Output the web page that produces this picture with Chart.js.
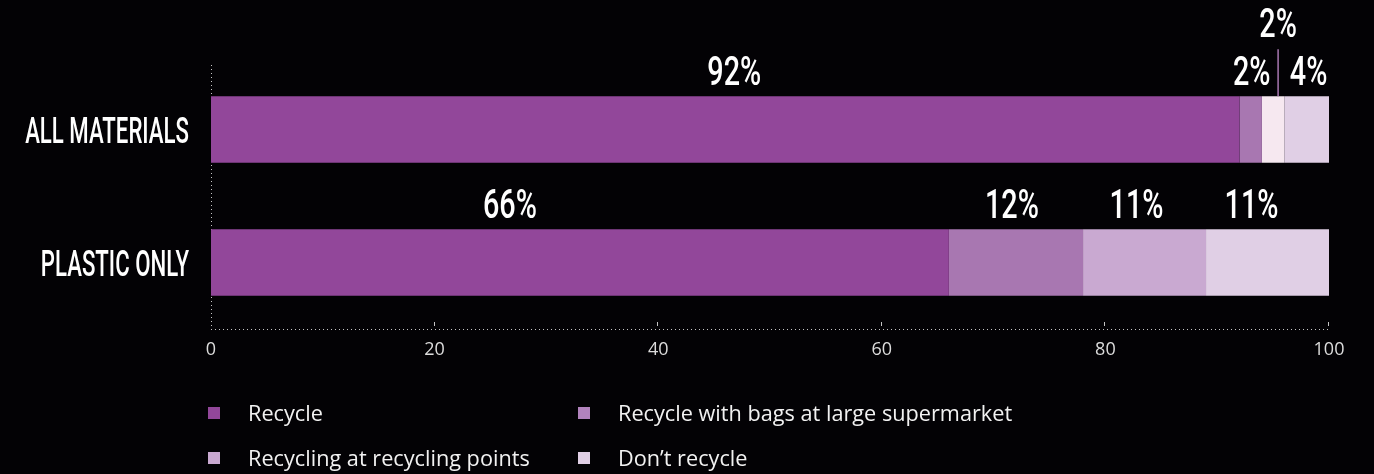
<!DOCTYPE html>
<html>
<head>
<meta charset="utf-8">
<script src="https://cdn.jsdelivr.net/npm/chart.js@4.4.1/dist/chart.umd.min.js"></script>
<style>
  html, body { margin: 0; padding: 0; background: #030205; }
  #wrap { position: relative; width: 1374px; height: 474px; overflow: hidden; }
  #chart { display: block; }
  #legend {
    position: absolute; left: 208px; top: 398px;
    display: grid; grid-template-columns: 370px auto; row-gap: 16px;
    font-family: "Open Sans", sans-serif; font-size: 21.7px; color: #f2f2f2;
  }
  .item { display: flex; align-items: center; height: 29px; white-space: nowrap; }
  .swatch { width: 12px; height: 12px; margin-right: 28px; flex: none; }
</style>
</head>
<body>
<div id="wrap">
  <canvas id="chart" width="1374" height="474"></canvas>
  <div id="legend"></div>
</div>
<script>
// Survey answers, percent of respondents
const categories = ['ALL MATERIALS', 'PLASTIC ONLY'];
const seriesNames = ['Recycle', 'Recycle with bags at large supermarket', 'Recycling at recycling points', 'Don\u2019t recycle'];
const recycle = [92, 66];
const recycleWithBags = [2, 12];
const recyclingPoints = [2, 11];
const dontRecycle = [4, 11];
const xTickValues = [0, 20, 40, 60, 80, 100];

// Styling
const palette = ['#92479a', '#b283bd', '#c9a9d1', '#e0cfe5'];
const barColors = [
  ['#92479a', '#92479a'],
  ['#a877b1', '#a877b1'],
  ['#f6e8f0', '#c9a9d1'],
  ['#e0cfe5', '#e0cfe5']
];
// horizontal nudges for value labels [dataset][category], in px
const labelNudge = [
  [9, -70],
  [1, -4],
  [5, -8],
  [2, -16]
];
// labels lifted above their neighbours with a leader line
const callouts = [{ dataset: 2, index: 0, rise: 59 }];

const seriesValues = [recycle, recycleWithBags, recyclingPoints, dontRecycle];

function condensedText(ctx, text, x, y, size, sx, align) {
  ctx.save();
  ctx.font = '500 ' + size + 'px Roboto';
  const w = ctx.measureText(text).width * sx;
  const left = align === 'right' ? x - w : align === 'center' ? x - w / 2 : x;
  ctx.translate(left, y);
  ctx.scale(sx, 1);
  ctx.textAlign = 'left';
  ctx.textBaseline = 'alphabetic';
  ctx.fillText(text, 0, 0);
  ctx.restore();
}

const decorations = {
  id: 'decorations',
  beforeDatasetsDraw(chart) {
    const ctx = chart.ctx;
    const xs = chart.scales.x;
    const area = chart.chartArea;
    const left = Math.round(area.left), bottom = Math.round(area.bottom);

    // dotted axis lines
    ctx.save();
    ctx.fillStyle = '#c4c4c4';
    for (let x = left; x <= Math.round(area.right); x += 4) ctx.fillRect(x, bottom, 1, 1);
    for (let y = bottom; y >= Math.round(area.top) + 2; y -= 4) ctx.fillRect(left, y, 1, 1);

    // short tick marks above the x axis
    xTickValues.forEach(v => {
      if (v === 0) return;
      const px = Math.round(xs.getPixelForValue(v)) - 1;
      ctx.fillRect(px, bottom - 7, 1, 4);
    });
    ctx.restore();
  },
  afterDraw(chart) {
    const ctx = chart.ctx;
    const ys = chart.scales.y;
    const area = chart.chartArea;

    // category names
    ctx.save();
    ctx.fillStyle = '#ffffff';
    categories.forEach((c, i) => {
      const cy = ys.getPixelForValue(i);
      condensedText(ctx, c, area.left - 22, cy + 13, 37, 0.6, 'right');
    });
    ctx.restore();

    // value labels
    ctx.save();
    ctx.fillStyle = '#ffffff';
    chart.data.datasets.forEach((ds, d) => {
      const meta = chart.getDatasetMeta(d);
      meta.data.forEach((bar, i) => {
        const v = ds.data[i];
        const left = Math.min(bar.x, bar.base), right = Math.max(bar.x, bar.base);
        const cx = (left + right) / 2 + labelNudge[d][i];
        const top = bar.y - bar.height / 2;
        const call = callouts.find(c => c.dataset === d && c.index === i);
        if (call) {
          ctx.save();
          ctx.strokeStyle = '#a877b1';
          ctx.lineWidth = 1.5;
          ctx.beginPath();
          ctx.moveTo(cx, top - call.rise + 12);
          ctx.lineTo(cx, top);
          ctx.stroke();
          ctx.restore();
          condensedText(ctx, v + '%', cx, top - call.rise, 40, 0.72, 'center');
        } else {
          condensedText(ctx, v + '%', cx, top - 11, 40, 0.72, 'center');
        }
      });
    });
    ctx.restore();
  }
};

const chart = new Chart(document.getElementById('chart'), {
  type: 'bar',
  data: {
    labels: categories,
    datasets: seriesNames.map((name, d) => ({
      label: name,
      data: seriesValues[d],
      backgroundColor: barColors[d],
      borderWidth: 0,
      categoryPercentage: 1,
      barPercentage: 0.5
    }))
  },
  options: {
    indexAxis: 'y',
    responsive: false,
    animation: false,
    layout: { padding: { left: 211, right: 45, top: 63, bottom: 100 } },
    plugins: { legend: { display: false }, tooltip: { enabled: false } },
    scales: {
      x: {
        stacked: true,
        min: 0, max: 100,
        afterFit(s) { s.height = 45; },
        afterBuildTicks(s) { s.ticks = xTickValues.map(v => ({ value: v })); },
        grid: { display: false, drawTicks: false },
        border: { display: false },
        ticks: { color: '#dcdcdc', padding: 10, font: { family: 'Open Sans', size: 18 } }
      },
      y: {
        stacked: true,
        afterFit(s) { s.width = 0; },
        grid: { display: false, drawTicks: false },
        border: { display: false },
        ticks: { display: false }
      }
    }
  },
  plugins: [decorations]
});

// legend laid out in two columns
const legendEl = document.getElementById('legend');
seriesNames.forEach((name, d) => {
  const item = document.createElement('div');
  item.className = 'item';
  const sw = document.createElement('span');
  sw.className = 'swatch';
  sw.style.background = palette[d];
  const label = document.createElement('span');
  label.textContent = name;
  item.appendChild(sw);
  item.appendChild(label);
  legendEl.appendChild(item);
});
</script>
</body>
</html>
